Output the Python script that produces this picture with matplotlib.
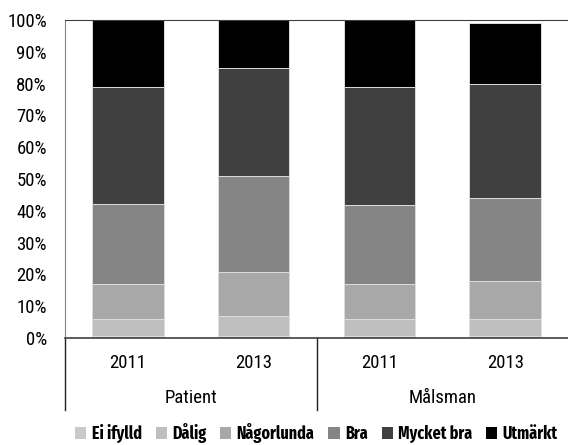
import matplotlib.pyplot as plt
import numpy as np

plt.rcParams['font.family'] = ['Roboto Condensed', 'DejaVu Sans']

# data
years = ['2011', '2013', '2011', '2013']
groups = ['Patient', 'Målsman']
series = ['Ei ifylld', 'Dålig', 'Någorlunda', 'Bra', 'Mycket bra', 'Utmärkt']
ei_ifylld = [0.7, 0.7, 0.7, 0.7]
dalig = [5.4, 6.3, 5.4, 5.4]
nagorlunda = [10.9, 13.8, 11.0, 11.9]
bra = [25.0, 30.2, 24.8, 26.0]
mycket_bra = [37.0, 34.0, 37.1, 35.9]
utmarkt = [21.0, 15.0, 21.0, 19.1]
colors = ['#c9c9c9', '#bfbfbf', '#a8a8a8', '#858585', '#404040', '#000000']

values = [ei_ifylld, dalig, nagorlunda, bra, mycket_bra, utmarkt]

fig = plt.figure(figsize=(5.68, 4.45), dpi=100)
ax = fig.add_axes([65/568, (445-338)/445, (568-65)/568, (338-20)/445])

x = np.arange(len(years))
bottom = np.zeros(len(years))
for name, vals, c in zip(series, values, colors):
    ax.bar(x, vals, 0.57, bottom=bottom, color=c, label=name,
           edgecolor='#dcdcdc', linewidth=0.7)
    bottom += np.array(vals)

fs = 13.5
ax.set_xlim(-0.5, 3.5)
ax.set_ylim(0, 100)
ax.set_yticks(range(0, 101, 10))
ax.set_yticklabels([f'{v}%' for v in range(0, 101, 10)], fontsize=fs)
ax.tick_params(axis='y', length=0, pad=13)
ax.set_xticks([])

ax.spines['left'].set_color('#868686')
ax.spines['top'].set_color('#404040')
ax.spines['bottom'].set_color('#404040')
ax.spines['right'].set_visible(False)
ax.spines['bottom'].set_linewidth(1.2)

# category axis below
tr = ax.get_xaxis_transform()
for xv in [-0.5, 1.5]:
    ax.plot([xv, xv], [0, -0.225], transform=tr, color='#202020', lw=1, clip_on=False)
for xi, y in zip(x, years):
    ax.text(xi, -0.078, y, transform=tr, ha='center', va='center', fontsize=fs)
for gi, g in enumerate(groups):
    ax.text(gi * 2 + 0.5, -0.19, g, transform=tr, ha='center', va='center', fontsize=fs)

leg = ax.legend(loc='center', bbox_to_anchor=(0.5, -0.30), ncol=6, frameon=False,
                prop={'family': ['Fira Sans Extra Condensed', 'DejaVu Sans'],
                      'weight': 'bold', 'size': 12.5},
                handlelength=0.65, handleheight=0.65, borderpad=0.2,
                handletextpad=0.3, columnspacing=0.8)
for h in leg.legend_handles:
    h.set_edgecolor('none')

fig.savefig('out.png', dpi=100)
